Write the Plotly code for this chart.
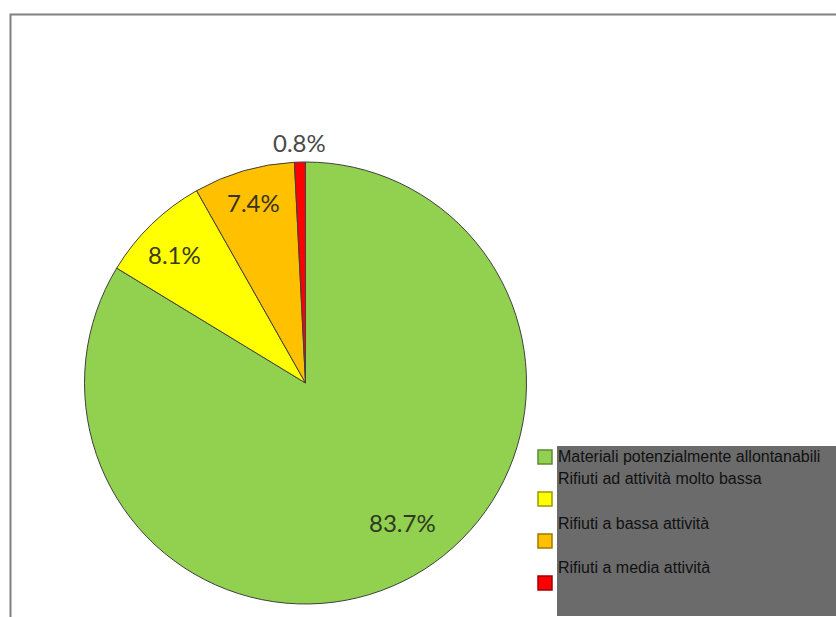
import math
import plotly.graph_objects as go

labels = ["Materiali potenzialmente allontanabili",
          "Rifiuti ad attività molto bassa",
          "Rifiuti a bassa attività",
          "Rifiuti a media attività"]
values = [83.7, 8.1, 7.4, 0.8]
colors = ["#92D050", "#FFFF00", "#FFC000", "#FF0000"]
marker_borders = ["#5E8A33", "#9A9A00", "#A07800", "#A00000"]
# radial position of each data label, as a fraction of the pie radius (style)
label_radius = [0.77, 0.83, 0.85, 1.09]
label_angle_shift = [-5.5, -1.5, 0, 0]
label_colors = ["#2E3A22", "#3A3A1A", "#3A3220", "#4A4A4A"]

W, H = 836, 617
pie_left, pie_right, pie_top, pie_bottom = 84, 527, 162, 604

fig = go.Figure(go.Pie(
    labels=labels,
    values=values,
    sort=False,
    direction="clockwise",
    rotation=0,
    marker=dict(colors=colors, line=dict(color="#404040", width=1)),
    textinfo="none",
    domain=dict(x=[pie_left / W, pie_right / W], y=[1 - pie_bottom / H, 1 - pie_top / H]),
    showlegend=False,
    hoverinfo="label+percent",
))

# data labels placed at slice mid-angles computed from the values
cx = (pie_left + pie_right) / 2
cy = (pie_top + pie_bottom) / 2
R = min(pie_right - pie_left, pie_bottom - pie_top) / 2
total = sum(values)
annotations = []
cum = 0.0
for i, v in enumerate(values):
    mid = (cum + v / 2) / total * 360 + label_angle_shift[i]
    cum += v
    rad = math.radians(mid)
    px = cx + math.sin(rad) * R * label_radius[i]
    py = cy - math.cos(rad) * R * label_radius[i]
    annotations.append(dict(text=f"{v / total * 100:.1f}%", xref="paper", yref="paper",
                            x=px / W, y=1 - py / H, xanchor="center", yanchor="middle",
                            showarrow=False,
                            font=dict(family="Lato", size=24, color=label_colors[i])))

shapes = []
# outer frame
shapes.append(dict(type="rect", xref="paper", yref="paper",
                   x0=10.5 / W, x1=1.05, y0=-0.05, y1=1 - 14.5 / H,
                   line=dict(color="#808080", width=2), fillcolor="rgba(0,0,0,0)",
                   layer="below"))
# legend background
shapes.append(dict(type="rect", xref="paper", yref="paper",
                   x0=557 / W, x1=1.0, y0=1 - 616 / H, y1=1 - 446 / H,
                   line=dict(width=0), fillcolor="#6B6B6B", layer="above"))

marker_y = [457, 499, 541, 583]
text_y = [456, 478, 523, 567]
for i, lab in enumerate(labels):
    my = marker_y[i]
    shapes.append(dict(type="rect", xref="paper", yref="paper",
                       x0=538 / W, x1=552 / W, y0=1 - (my + 7) / H, y1=1 - (my - 7) / H,
                       line=dict(color=marker_borders[i], width=1.5),
                       fillcolor=colors[i], layer="above"))
    annotations.append(dict(text=lab, xref="paper", yref="paper",
                            x=556 / W, y=1 - text_y[i] / H,
                            xanchor="left", yanchor="middle", showarrow=False,
                            font=dict(family="Liberation Sans, Arial", size=16, color="#111111")))

fig.update_layout(
    width=W, height=H,
    margin=dict(l=0, r=0, t=0, b=0),
    paper_bgcolor="white",
    plot_bgcolor="white",
    shapes=shapes,
    annotations=annotations,
)

fig.write_html("out.html")
